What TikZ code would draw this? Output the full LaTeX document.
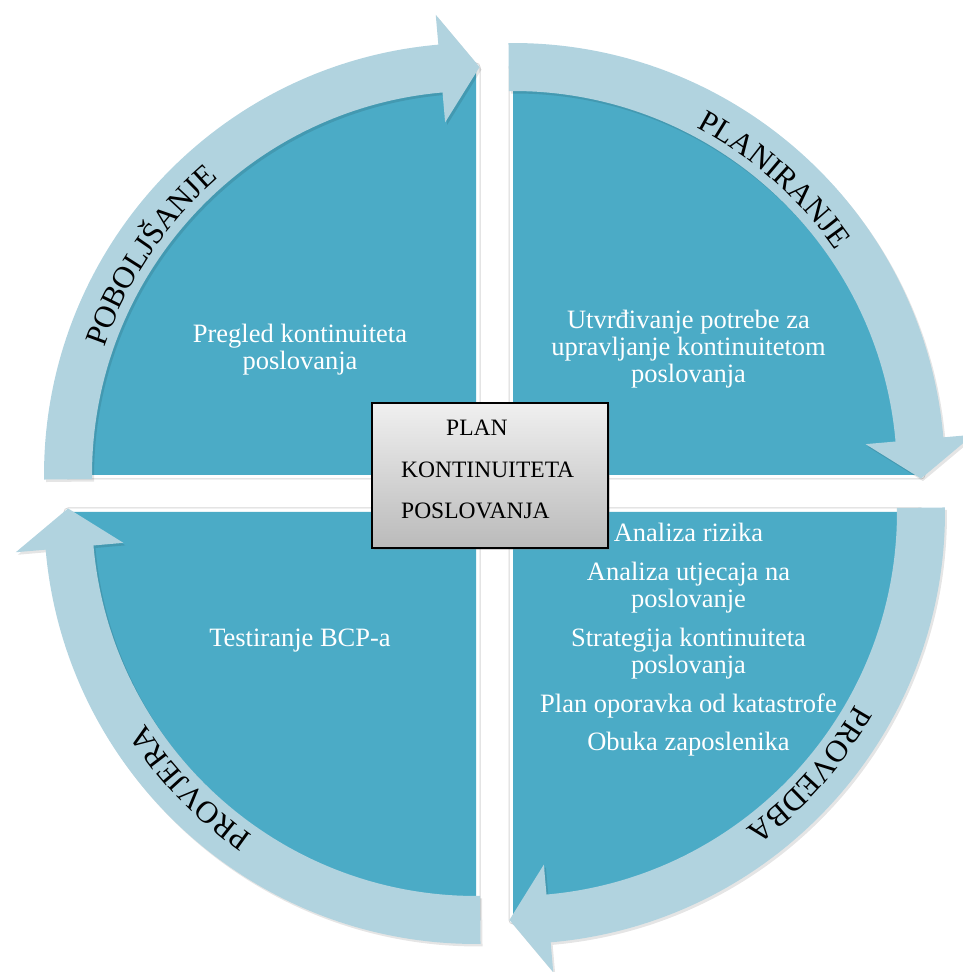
\documentclass[tikz,border=0pt]{standalone}
\usepackage{fontspec}
\setmainfont{Liberation Serif}
\usetikzlibrary{decorations.text,shadows}
\definecolor{sectorteal}{HTML}{4BABC6}
\definecolor{arrowblue}{HTML}{B1D3DF}
\tikzset{
  sectorrim/.style={draw=black!16, line width=9pt, line join=round},
  sectorwhite/.style={draw=white, line width=7pt, line join=round},
  sectorfill/.style={fill=sectorteal},
  arrowfill/.style={fill=arrowblue},
  arrowshadow/.style={fill=black, opacity=0.10},
  innertext/.style={text=white, font=\fontsize{26.5}{27}\selectfont, align=center, inner sep=0pt, anchor=base},
  curvelabel/.style={decorate, decoration={text along path, text align=center,
      text={|\fontsize{31}{32}\selectfont|#1}}},
  centerbox/.style={draw=black, line width=1.5pt, top color=black!6, bottom color=black!27,
      minimum width=236pt, minimum height=145pt, inner sep=0pt,
      drop shadow={shadow xshift=2pt, shadow yshift=-2pt, opacity=0.35}},
  boxtext/.style={font=\fontsize{23.5}{41.5}\selectfont, align=left, inner sep=0pt, anchor=base west}
}
% #1 centre, #2 base angle
\newcommand\sectorshape[2]{%
  \begin{scope}[shift={#1}]
    \pgfmathsetmacro\qa{#2}\pgfmathsetmacro\qb{#2+90}
    \path[sectorrim] (0,0) -- (\qa:408) arc[start angle=\qa, end angle=\qb, radius=408] -- cycle;
    \path[sectorwhite] (0,0) -- (\qa:408) arc[start angle=\qa, end angle=\qb, radius=408] -- cycle;
    \path[sectorfill] (0,0) -- (\qa:408) arc[start angle=\qa, end angle=\qb, radius=408] -- cycle;
  \end{scope}}
\newcommand\arrowpath{(\as:432) arc[start angle=\as, end angle=\ae, radius=432] -- (\ae:462) -- (\at:408) -- (\ae:354) -- (\ae:384) arc[start angle=\ae, end angle=\as, radius=384] -- cycle}
\newcommand\arrowshape[2]{%
  \begin{scope}[shift={#1}]
    \pgfmathsetmacro\as{#2+90.6}\pgfmathsetmacro\ae{#2+5}\pgfmathsetmacro\at{#2-0.5}
    \path[arrowshadow, shift={(2,-2.5)}] \arrowpath;
    \path[arrowfill] \arrowpath;
  \end{scope}}
\begin{document}
\begin{tikzpicture}[x=1pt, y=1pt]
\useasboundingbox (0,0) rectangle (962,972);
% sectors
\sectorshape{(476,497)}{90}
\sectorshape{(513,497)}{0}
\sectorshape{(513,460)}{-90}
\sectorshape{(476,460)}{180}
% arrows
\arrowshape{(476,497)}{90}
\arrowshape{(513,497)}{0}
\arrowshape{(513,460)}{-90}
\arrowshape{(476,460)}{180}
% curved labels
\begin{scope}[shift={(476,497)}]
  \path[curvelabel=POBOLJŠANJE] (186:393) arc[start angle=186, end angle=106, radius=393];
\end{scope}
\begin{scope}[shift={(513,497)}]
  \path[curvelabel=PLANIRANJE] (88.5:393) arc[start angle=88.5, end angle=8.5, radius=393];
\end{scope}
\begin{scope}[shift={(513,460)}]
  \path[curvelabel=PROVEDBA] (-1.5:393) arc[start angle=-1.5, end angle=-81.5, radius=393];
\end{scope}
\begin{scope}[shift={(476,460)}]
  \path[curvelabel=PROVJERA] (264:393) arc[start angle=264, end angle=184, radius=393];
\end{scope}
% sector texts (anchor base = baseline of last line)
\node[innertext] (tl) at (300,602) {Pregled kontinuiteta\\poslovanja};
\node[innertext] (tr) at (688.5,589) {Utvrđivanje potrebe za\\upravljanje kontinuitetom\\poslovanja};
\node[innertext] (bl) at (300,325) {Testiranje BCP-a};
\node[innertext] (br) at (688.5,221) {Analiza rizika\\[12pt]Analiza utjecaja na\\poslovanje\\[12pt]Strategija kontinuiteta\\poslovanja\\[12pt]Plan oporavka od katastrofe\\[11pt]Obuka zaposlenika};
% centre box
\node[centerbox] (box) at (490,496.5) {};
\node[boxtext] (boxt) at (401,453) {\hspace*{45pt}PLAN\\KONTINUITETA\\POSLOVANJA};
\end{tikzpicture}
\end{document}
